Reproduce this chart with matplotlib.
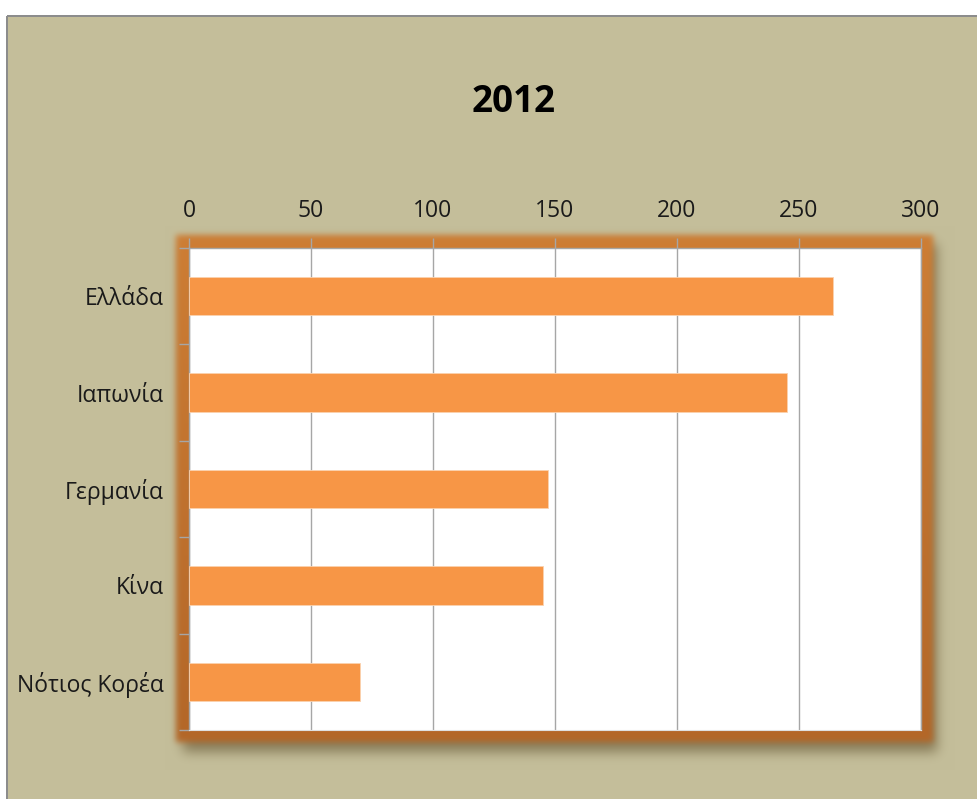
import numpy as np
import matplotlib
matplotlib.use("Agg")
import matplotlib.pyplot as plt

plt.rcParams['font.family'] = ['Open Sans', 'DejaVu Sans']

# Chart data
countries = ["Ελλάδα", "Ιαπωνία", "Γερμανία", "Κίνα", "Νότιος Κορέα"]
values = [264, 245, 147, 145, 70]
xticks = [0, 50, 100, 150, 200, 250, 300]
title = "2012"

W, H = 977, 799
DPI = 100

# plot area in pixels (left, top, right, bottom)
px_l, px_t, px_r, px_b = 189, 248, 921, 730


def blur(img, sigma):
    r = int(3 * sigma)
    k = np.exp(-0.5 * (np.arange(-r, r + 1) / sigma) ** 2)
    k /= k.sum()
    pad = np.pad(img, r, mode="edge")
    out = np.zeros_like(pad)
    for i, w in enumerate(k):
        out[:, r:-r] += w * pad[:, i:i + pad.shape[1] - 2 * r]
    pad2 = out[:, r:-r]
    out2 = np.zeros((img.shape[0], img.shape[1]))
    for i, w in enumerate(k):
        out2 += w * pad2[i:i + img.shape[0], :]
    return out2


def rect_mask(x0, y0, x1, y1):
    m = np.zeros((H, W))
    m[y0:y1, x0:x1] = 1.0
    return m


# background: khaki chart area with a white margin and grey border
bg = np.ones((H, W, 3))
khaki = np.array([196, 190, 154]) / 255
bg[16:, 7:] = khaki
bg[15:17, 7:] = np.array([140, 140, 140]) / 255
bg[16:, 6:8] = np.array([140, 140, 140]) / 255

# soft drop shadow under the frame
shadow = blur(rect_mask(px_l - 6, px_t - 4, px_r + 16, px_b + 22), 6) * 0.7
shadow_col = np.array([110, 95, 60]) / 255
bg = bg * (1 - shadow[..., None]) + shadow_col * shadow[..., None]

# orange glow band round the plot area
band = blur(rect_mask(px_l - 13, px_t - 13, px_r + 12, px_b + 12), 3)
rows = np.linspace(0, 1, H)[:, None]
top_col = np.array([205, 125, 52]) / 255
bot_col = np.array([180, 103, 40]) / 255
t = np.clip((rows - px_t / H) / ((px_b - px_t) / H), 0, 1)
band_col = top_col * (1 - t[..., None]) + bot_col * t[..., None]
band_col = np.broadcast_to(band_col, (H, W, 3))
bg = bg * (1 - band[..., None]) + band_col * band[..., None]

fig = plt.figure(figsize=(W / DPI, H / DPI), dpi=DPI)
bg_ax = fig.add_axes([0, 0, 1, 1], zorder=-5)
bg_ax.imshow(bg, extent=(0, W, H, 0), aspect="auto", interpolation="bilinear")
bg_ax.set_axis_off()

ax = fig.add_axes([px_l / W, 1 - px_b / H, (px_r - px_l) / W, (px_b - px_t) / H])
ax.set_facecolor("white")

y = np.arange(len(countries))
ax.barh(y, values, height=0.4, color="#F79646", edgecolor="#FBD2AE",
        linewidth=0.6, zorder=3)

ax.set_xlim(0, 300)
ax.set_ylim(len(countries) - 0.5, -0.5)
ax.set_xticks(xticks)
ax.xaxis.tick_top()
ax.grid(axis="x", color="#A6A6A6", linewidth=1.0, zorder=1)
ax.tick_params(axis="x", top=True, bottom=False, length=7, width=1.0,
               color="#A6A6A6", pad=11, labelsize=16.5, labelcolor="#1A1A1A")

ax.set_yticks(y)
ax.set_yticklabels(countries)
ax.set_yticks(np.arange(-0.5, len(countries)), minor=True)
ax.tick_params(axis="y", which="major", length=0, pad=18, labelsize=16.5,
               labelcolor="#1A1A1A")
ax.tick_params(axis="y", which="minor", length=7, width=1.0, color="#A6A6A6")

for side in ["top", "left", "right"]:
    ax.spines[side].set_color("#A6A6A6")
    ax.spines[side].set_linewidth(1.0)
ax.spines["bottom"].set_color("#E0E0E0")

fig.text(514 / W, 1 - 102 / H, title, ha="center", va="center",
         fontsize=26.5, fontweight="bold", color="black")

fig.savefig("out.png", dpi=DPI)
